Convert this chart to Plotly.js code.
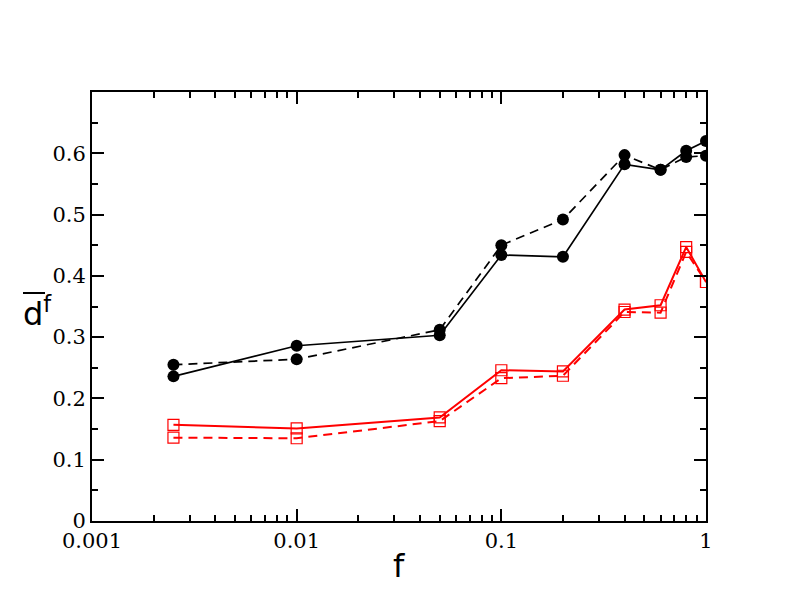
<!DOCTYPE html>
<html>
<head>
<meta charset="utf-8">
<script src="https://cdn.plot.ly/plotly-3.0.1.min.js"></script>
<style>html,body{margin:0;padding:0;background:#fff;}#chart{width:792px;height:612px;}</style>
</head>
<body>
<div id="chart"></div>
<script>
// Data
const fValues = [0.0025, 0.01, 0.05, 0.1, 0.2, 0.4, 0.6, 0.8, 1.0];
const blackSolid  = [0.236, 0.286, 0.303, 0.434, 0.431, 0.582, 0.573, 0.604, 0.620];
const blackDashed = [0.255, 0.264, 0.312, 0.450, 0.492, 0.597, 0.573, 0.594, 0.596];
const redSolid    = [0.157, 0.151, 0.169, 0.246, 0.244, 0.345, 0.352, 0.447, 0.390];
const redDashed   = [0.136, 0.135, 0.163, 0.233, 0.237, 0.341, 0.340, 0.439, 0.390];
const xTickVals = [0.001, 0.01, 0.1, 1];
const xTickText = ['0.001', '0.01', '0.1', '1'];
const yTickVals = [0, 0.1, 0.2, 0.3, 0.4, 0.5, 0.6];
const yTickText = ['0', '0.1', '0.2', '0.3', '0.4', '0.5', '0.6'];

const serif = 'DejaVu Serif';
const sans = 'DejaVu Sans';
const dashPat = '9px,6px';
const traces = [
  {x: fValues, y: redDashed, mode: 'lines+markers', line: {color: '#ff0000', width: 2, dash: dashPat},
   marker: {symbol: 'square-open', size: 11, color: '#ff0000', line: {width: 1.2, color: '#ff0000'}}},
  {x: fValues, y: redSolid, mode: 'lines+markers', line: {color: '#ff0000', width: 2},
   marker: {symbol: 'square-open', size: 11, color: '#ff0000', line: {width: 1.2, color: '#ff0000'}}},
  {x: fValues, y: blackDashed, mode: 'lines+markers', line: {color: '#000', width: 1.7, dash: dashPat},
   marker: {symbol: 'circle', size: 12, color: '#000'}},
  {x: fValues, y: blackSolid, mode: 'lines+markers', line: {color: '#000', width: 1.7},
   marker: {symbol: 'circle', size: 12, color: '#000'}}
];

const layout = {
  width: 792, height: 612,
  margin: {l: 92, r: 86, t: 92, b: 91},
  paper_bgcolor: '#fff', plot_bgcolor: '#fff',
  showlegend: false,
  font: {family: serif, size: 21, color: '#000'},
  xaxis: {
    type: 'log', range: [-3, 0],
    tickmode: 'array', tickvals: xTickVals, ticktext: xTickText,
    ticks: 'inside', ticklen: 12, tickwidth: 2, tickcolor: '#000',
    showline: true, linewidth: 2, linecolor: '#000', mirror: 'ticks',
    showgrid: false, zeroline: false,
    tickfont: {family: serif, size: 21, color: '#000'},
    minor: {ticks: 'inside', ticklen: 6, tickwidth: 2, tickcolor: '#000', dtick: 'D1', showgrid: false}
  },
  yaxis: {
    range: [0, 0.7],
    tickmode: 'array', tickvals: yTickVals, ticktext: yTickText,
    ticks: 'inside', ticklen: 12, tickwidth: 2, tickcolor: '#000',
    showline: true, linewidth: 2, linecolor: '#000', mirror: 'ticks',
    showgrid: false, zeroline: false,
    tickfont: {family: serif, size: 21, color: '#000'},
    minor: {ticks: 'inside', ticklen: 6, tickwidth: 2, tickcolor: '#000', dtick: 0.05, showgrid: false}
  },
  annotations: [
    {xref: 'paper', yref: 'paper', x: -0.1156, y: 0.487, xanchor: 'left', yanchor: 'middle',
     text: 'd<sup>f</sup>', showarrow: false,
     font: {family: sans, size: 32, color: '#000'}},
    {xref: 'paper', yref: 'paper', x: 0.5, y: -0.104, xanchor: 'center', yanchor: 'middle',
     text: 'f', showarrow: false,
     font: {family: sans, size: 32, color: '#000'}}
  ],
  shapes: [
    {type: 'line', xref: 'paper', yref: 'paper', x0: -0.1124, x1: -0.0765, y0: 0.5315, y1: 0.5315,
     line: {color: '#000', width: 2}}
  ]
};

Plotly.newPlot('chart', traces, layout, {displayModeBar: false, staticPlot: true});
</script>
</body>
</html>
